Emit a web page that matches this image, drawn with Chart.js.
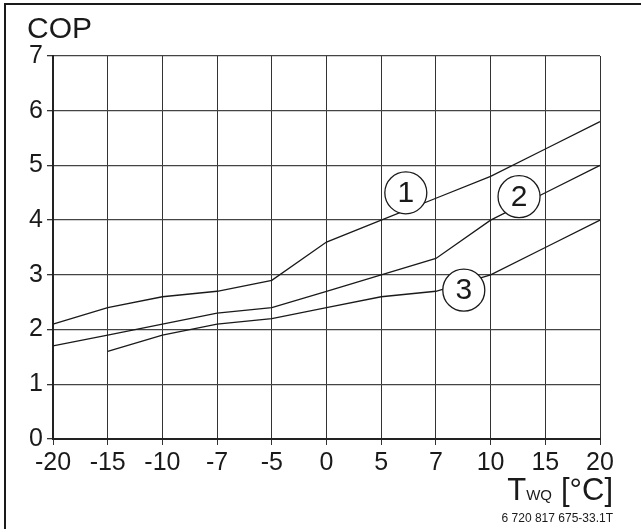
<!DOCTYPE html>
<html>
<head>
<meta charset="utf-8">
<script src="https://cdn.jsdelivr.net/npm/chart.js@4.4.1/dist/chart.umd.min.js"></script>
<style>
  html, body { margin: 0; padding: 0; background: #fff; }
  #wrap { position: relative; width: 641px; height: 529px; }
  canvas { display: block; }
</style>
</head>
<body>
<div id="wrap"><canvas id="c" width="641" height="529"></canvas></div>
<script>
// ---- data ----
const xLabels = ['-20', '-15', '-10', '-7', '-5', '0', '5', '7', '10', '15', '20'];
const curve1 = [2.1, 2.4, 2.6, 2.7, 2.9, 3.6, 4.0, 4.4, 4.8, 5.3, 5.8];
const curve2 = [1.7, 1.9, 2.1, 2.3, 2.4, 2.7, 3.0, 3.3, 4.0, 4.5, 5.0];
const curve3 = [null, 1.6, 1.9, 2.1, 2.2, 2.4, 2.6, 2.7, 3.0, 3.5, 4.0];
const curveNames = ['1', '2', '3'];
const yTitle = 'COP';
const xTitleMain = 'T';
const xTitleSub = 'WQ';
const xTitleUnit = '[°C]';
const docCode = '6 720 817 675-33.1T';

const FONT = '"Liberation Sans", Arial, Helvetica, sans-serif';
const INK = '#1a1a1a';

// circled curve labels anchored in data space (category index, value)
const labelAnchors = [
  { text: curveNames[0], x: 6.45, y: 4.50 },
  { text: curveNames[1], x: 8.52, y: 4.43 },
  { text: curveNames[2], x: 7.51, y: 2.72 }
];

const decorations = {
  id: 'decorations',
  afterDatasetsDraw(chart) {
    const ctx = chart.ctx;
    const xs = chart.scales.x, ys = chart.scales.y;
    ctx.save();
    labelAnchors.forEach(a => {
      const px = xs.getPixelForValue(a.x);
      const py = ys.getPixelForValue(a.y);
      ctx.beginPath();
      ctx.arc(px, py, 21, 0, Math.PI * 2);
      ctx.fillStyle = '#fff';
      ctx.fill();
      ctx.lineWidth = 1.3;
      ctx.strokeStyle = INK;
      ctx.stroke();
      ctx.fillStyle = INK;
      ctx.font = '30px ' + FONT;
      ctx.textAlign = 'center';
      ctx.textBaseline = 'middle';
      ctx.fillText(a.text, px, py + 1);
    });
    ctx.restore();
  },
  afterDraw(chart) {
    const ctx = chart.ctx;
    const area = chart.chartArea;
    ctx.save();
    // frame (top and left)
    ctx.fillStyle = '#1a1a1a';
    ctx.fillRect(4, 3, 637, 2);
    ctx.fillRect(4, 3, 2, 526);
    // y title
    ctx.fillStyle = INK;
    ctx.textBaseline = 'alphabetic';
    ctx.textAlign = 'left';
    ctx.font = '30px ' + FONT;
    ctx.fillText(yTitle, 27, 38);
    // x title, right aligned
    const right = area.right + 13;
    const base = 500;
    ctx.textAlign = 'right';
    ctx.font = '31px ' + FONT;
    const unitW = ctx.measureText(xTitleUnit).width;
    ctx.fillText(xTitleUnit, right, base);
    ctx.font = '15px ' + FONT;
    const subW = ctx.measureText(xTitleSub).width;
    const subRight = right - unitW - 9;
    ctx.fillText(xTitleSub, subRight, base);
    ctx.font = '31px ' + FONT;
    ctx.fillText(xTitleMain, subRight - subW, base);
    // document code
    ctx.font = '12px ' + FONT;
    ctx.fillText(docCode, right, 522);
    ctx.restore();
  }
};

const lineStyle = { borderColor: INK, borderWidth: 1.3, pointRadius: 0, tension: 0, fill: false, spanGaps: false };

new Chart(document.getElementById('c'), {
  type: 'line',
  data: {
    labels: xLabels,
    datasets: [
      Object.assign({ label: curveNames[0], data: curve1 }, lineStyle),
      Object.assign({ label: curveNames[1], data: curve2 }, lineStyle),
      Object.assign({ label: curveNames[2], data: curve3 }, lineStyle)
    ]
  },
  options: {
    responsive: false,
    animation: false,
    devicePixelRatio: 1,
    layout: { padding: { left: 0, top: 56, right: 41, bottom: 0 } },
    plugins: { legend: { display: false }, tooltip: { enabled: false } },
    scales: {
      x: {
        type: 'category',
        offset: false,
        grid: { offset: false, color: '#333', lineWidth: 1, tickLength: 6, tickColor: '#333' },
        border: { color: '#222', width: 2 },
        ticks: { color: INK, font: { family: FONT, size: 25 }, padding: 3, maxRotation: 0, autoSkip: false },
        afterFit(s) { s.height = 90; }
      },
      y: {
        min: 0, max: 7,
        grid: { color: '#444', lineWidth: 1.3, tickLength: 6, tickColor: '#333' },
        border: { color: '#222', width: 2 },
        ticks: { stepSize: 1, color: INK, font: { family: FONT, size: 25 }, padding: 4 },
        afterFit(s) { s.width = 53; }
      }
    }
  },
  plugins: [decorations]
});
</script>
</body>
</html>
